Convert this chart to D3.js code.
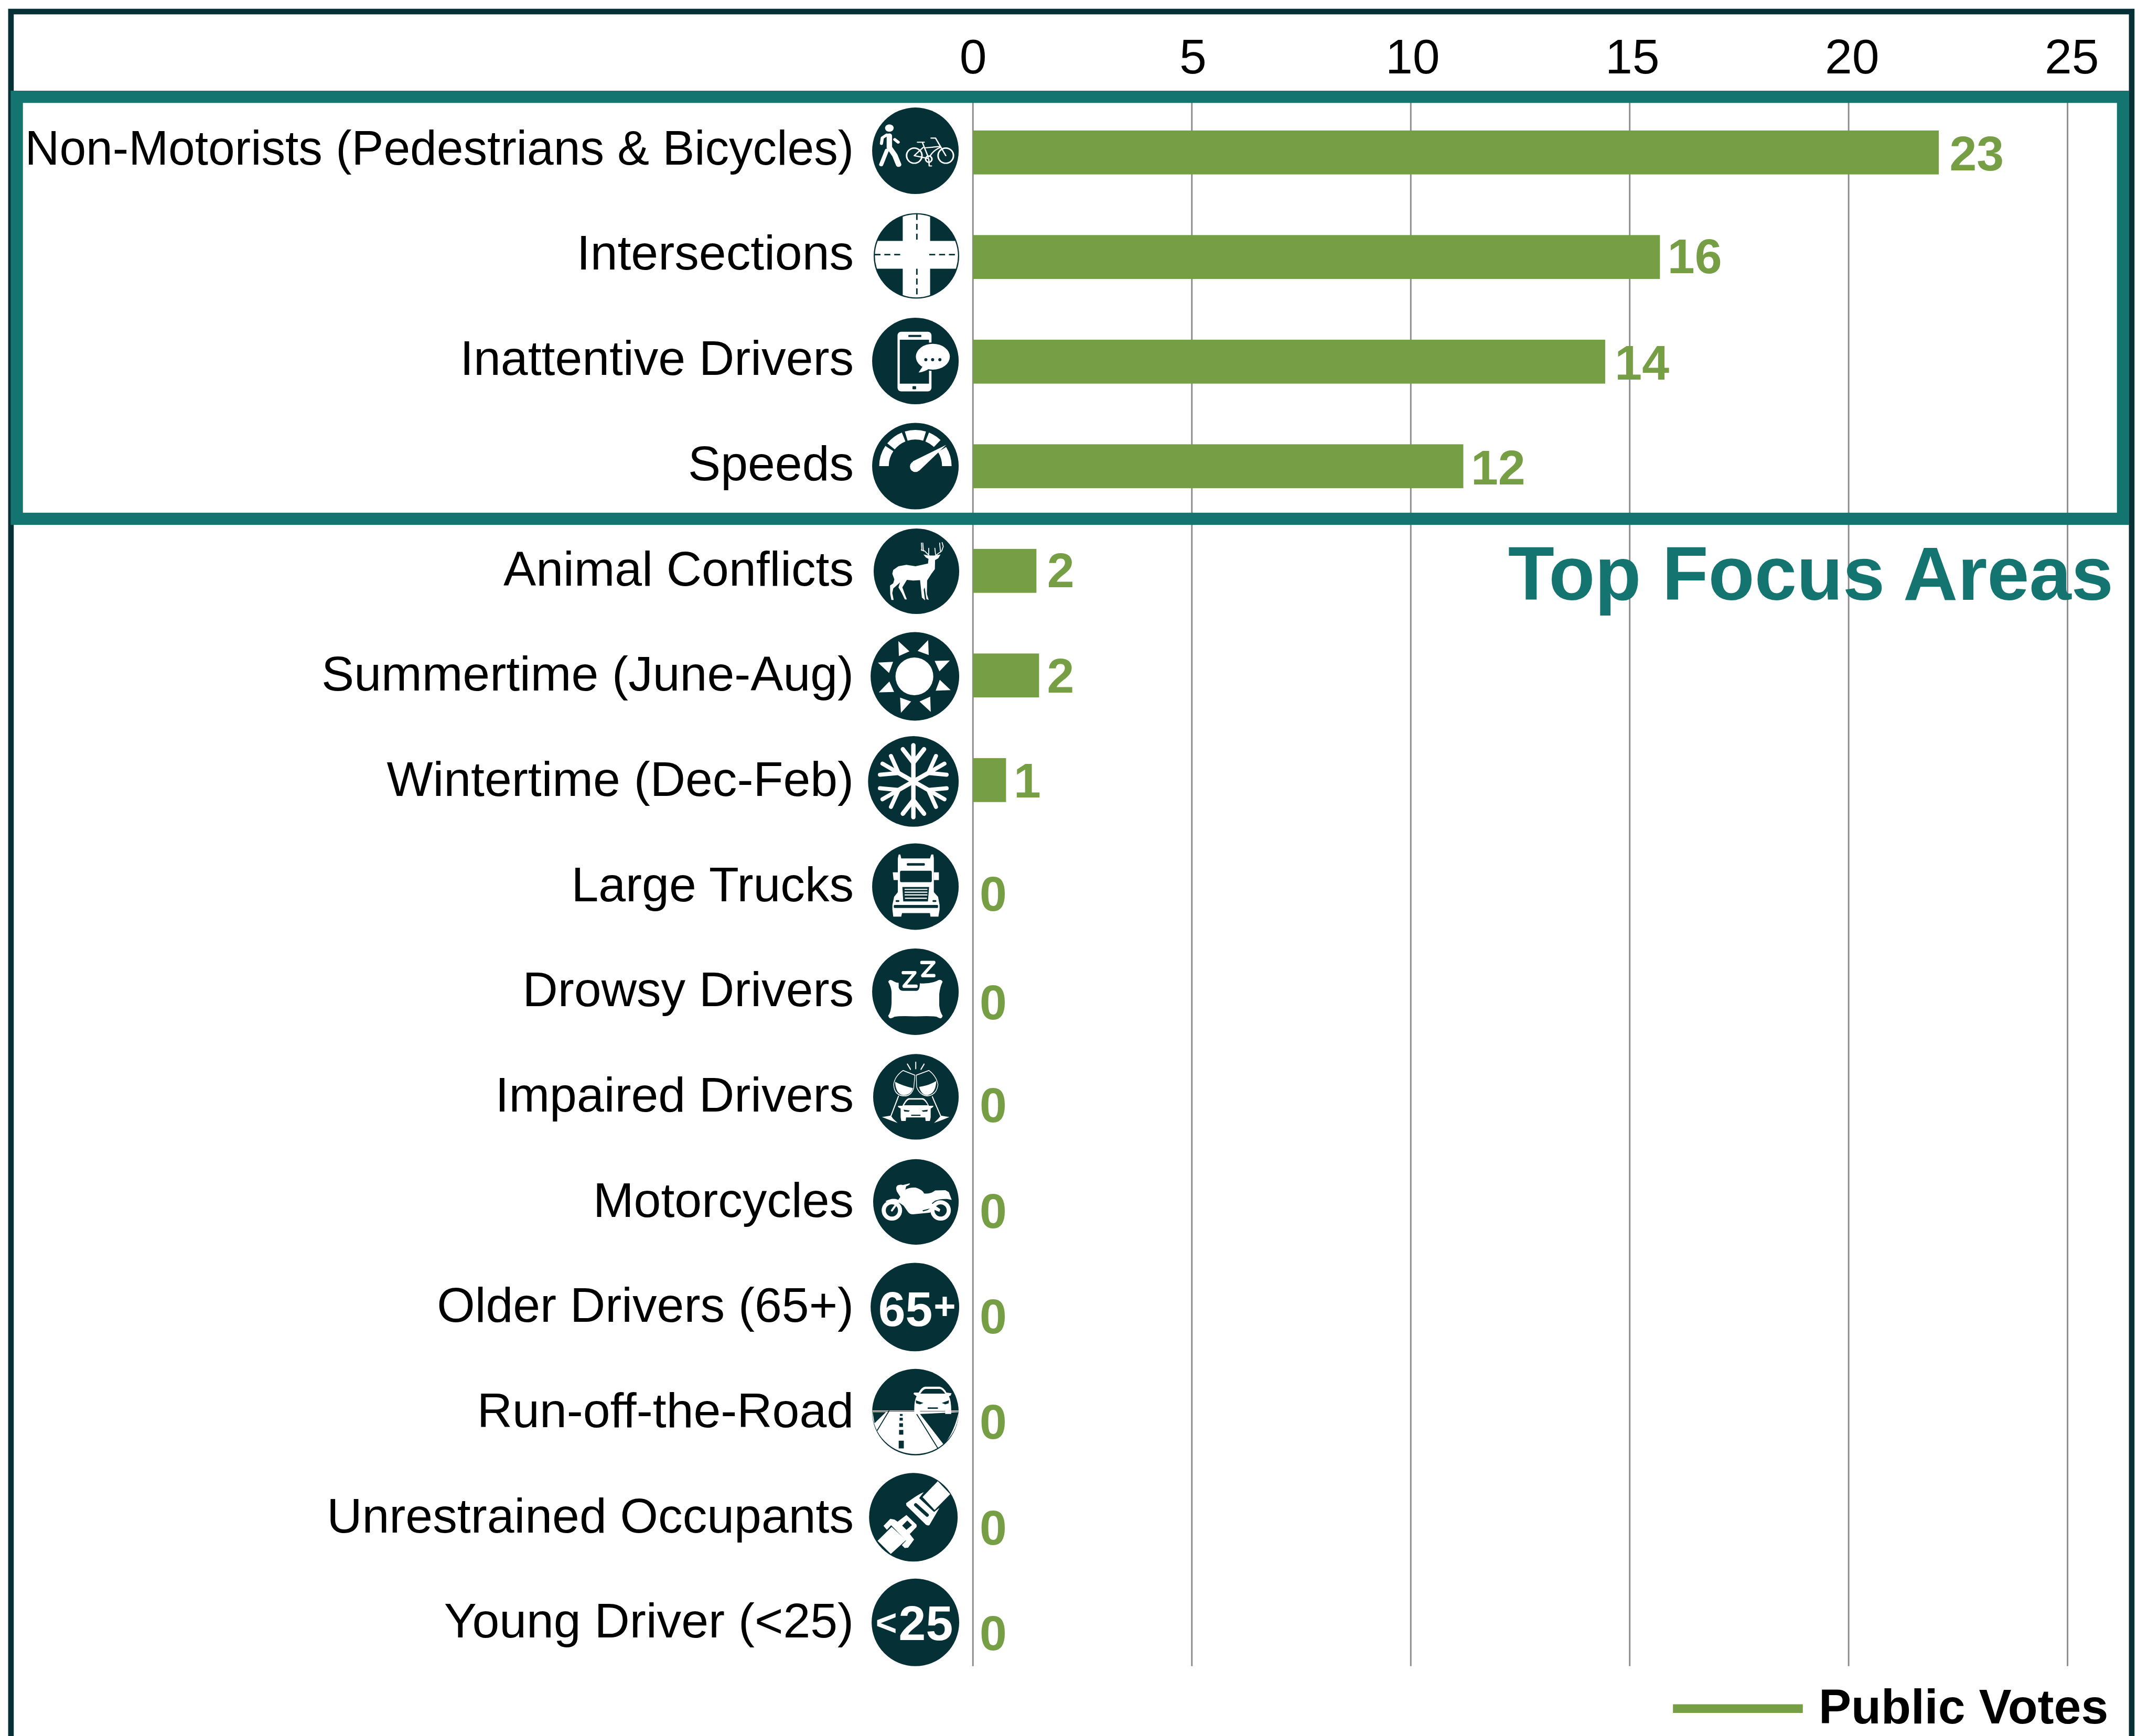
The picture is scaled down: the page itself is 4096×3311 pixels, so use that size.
<!DOCTYPE html>
<html>
<head>
<meta charset="utf-8">
<script src="https://cdn.jsdelivr.net/npm/d3@7"></script>
<style>
html, body { margin: 0; padding: 0; background: #fff; }
svg { display: block; }
text { font-family: "Liberation Sans", Arial, sans-serif; }
</style>
</head>
<body>
<div id="chart"></div>
<script>
const categories = ["Non-Motorists (Pedestrians & Bicycles)", "Intersections", "Inattentive Drivers", "Speeds",
    "Animal Conflicts", "Summertime (June-Aug)", "Wintertime (Dec-Feb)", "Large Trucks", "Drowsy Drivers",
    "Impaired Drivers", "Motorcycles", "Older Drivers (65+)", "Run-off-the-Road", "Unrestrained Occupants",
    "Young Driver (<25)"];
// the bars in the picture are a bit shorter than the printed votes
const barLengths = [22.06, 15.69, 14.44, 11.2, 1.45, 1.51, 0.756, 0, 0, 0, 0, 0, 0, 0, 0];
const voteLabels = [23, 16, 14, 12, 2, 2, 1, 0, 0, 0, 0, 0, 0, 0, 0];
const xTicks = [0, 5, 10, 15, 20, 25];
const legendLabel = "Public Votes";
const calloutLabel = "Top Focus Areas";

const DARK = "#053136", TEAL = "#137470", GREEN = "#769E44", GRID = "#8C8C8C";

// all drawing is done in reference pixels, the viewBox takes care of the 0.97
const svg = d3.select("#chart").append("svg")
    .attr("width", 4096).attr("height", 3311)
    .attr("viewBox", "0 0 4219 3410");

let x = d3.scaleLinear().domain([0, 25]).range([1911, 4061]);
let y = d3.scaleBand().domain(categories).range([196.5, 3279]).paddingInner(0.58).paddingOuter(0.29);
let iconY = d3.scalePoint().domain(categories).range([296, 3187]);
let labelY = d3.scalePoint().domain(categories).range([323, 3217]);

// outer frame runs off the bottom of the picture
svg.append("rect").attr("x", 21.5).attr("y", 22.5).attr("width", 4165.5).attr("height", 3600)
    .attr("fill", "none").attr("stroke", DARK).attr("stroke-width", 11);

svg.append("g").selectAll("line").data(xTicks).enter().append("line")
    .attr("x1", d => x(d)).attr("x2", d => x(d))
    .attr("y1", 200).attr("y2", 3273)
    .attr("stroke", GRID).attr("stroke-width", 3);

let xAxis = svg.append("g").attr("transform", "translate(0,144)")
    .call(d3.axisTop(x).tickValues(xTicks).tickSize(0).tickPadding(0));
xAxis.select(".domain").remove();
// tick labels drift slightly right of their gridlines in the picture
xAxis.selectAll("text").attr("font-size", 96).attr("fill", "#000")
    .attr("dx", d => d * 0.32)
    .style("font-family", '"Liberation Sans", Arial, sans-serif');

svg.append("g").selectAll("rect").data(categories).enter().append("rect")
    .attr("x", x(0))
    .attr("y", d => y(d))
    .attr("width", (d, i) => x(barLengths[i]) - x(0))
    .attr("height", y.bandwidth())
    .attr("fill", GREEN);

svg.append("rect").attr("x", 33).attr("y", 190).attr("width", 4137).attr("height", 829)
    .attr("fill", "none").attr("stroke", TEAL).attr("stroke-width", 24);

svg.append("g").selectAll("text").data(categories).enter().append("text")
    .attr("x", 1677)
    .attr("y", d => labelY(d))
    .attr("text-anchor", "end")
    .attr("font-size", 96)
    .attr("fill", "#000")
    .text(d => d)
    // the long first label is set tighter than the rest
    .filter((d, i) => i === 0)
    .attr("textLength", 1628)
    .attr("lengthAdjust", "spacingAndGlyphs");

// printed votes sit a little off their bars
const valueDx = [21, 15, 19, 15, 21, 15.5, 15, 13, 13, 13, 13, 13, 13, 13, 13];
const valueDy = [1, -2, 1, 2, -2, 0, 0, 17, 25, 21, 24, 25, 27, 29, 31];
svg.append("g").selectAll("text").data(categories).enter().append("text")
    .attr("x", (d, i) => x(barLengths[i]) + valueDx[i])
    .attr("y", (d, i) => y(d) + y.bandwidth() / 2 + valueDy[i] + 34)
    .attr("font-size", 96)
    .attr("font-weight", "bold")
    .attr("fill", GREEN)
    .text((d, i) => voteLabels[i]);

svg.append("text").attr("x", 4151).attr("y", 1178).attr("text-anchor", "end")
    .attr("font-size", 148.6).attr("font-weight", "bold").attr("fill", TEAL).text(calloutLabel);

svg.append("line").attr("x1", 3286).attr("x2", 3541).attr("y1", 3356.5).attr("y2", 3356.5)
    .attr("stroke", GREEN).attr("stroke-width", 17);
svg.append("text").attr("x", 4141).attr("y", 3385).attr("text-anchor", "end")
    .attr("font-size", 96).attr("font-weight", "bold").attr("fill", "#000").text(legendLabel);

// ---- icons ----
function fillW(g, d) { return g.append("path").attr("d", d).attr("fill", "#fff"); }
function fillD(g, d) { return g.append("path").attr("d", d).attr("fill", DARK); }
function strokeW(g, d, w, cap) {
    return g.append("path").attr("d", d).attr("fill", "none").attr("stroke", "#fff")
        .attr("stroke-width", w).attr("stroke-linecap", cap || "round").attr("stroke-linejoin", "round");
}
function strokeD(g, d, w, cap) {
    return g.append("path").attr("d", d).attr("fill", "none").attr("stroke", DARK)
        .attr("stroke-width", w).attr("stroke-linecap", cap || "butt");
}
function dot(g, cx, cy, r, fill) {
    return g.append("circle").attr("cx", cx).attr("cy", cy).attr("r", r).attr("fill", fill || "#fff");
}

// each glyph was traced on a crop, fr = [cx, cy, rx, ry] of the disc in that crop
const iconArt = [
    {fr: [331, 772, 191, 222.5], draw: g => {
        dot(g, 216, 655, 19);
        strokeW(g, "M216,695V755L240,795L257,843", 24);
        strokeW(g, "M205,770L180,843", 18);
        strokeW(g, "M205,690L185,705L181,735", 14);
        strokeW(g, "M240,714L255,728", 14);
        g.append("ellipse").attr("cx", 326).attr("cy", 797).attr("rx", 34).attr("ry", 39)
            .attr("fill", "none").attr("stroke", "#fff").attr("stroke-width", 7);
        g.append("ellipse").attr("cx", 465).attr("cy", 797).attr("rx", 34).attr("ry", 39)
            .attr("fill", "none").attr("stroke", "#fff").attr("stroke-width", 7);
        strokeW(g, "M340,728H370M362,730L388,805M372,757L440,750M326,797L365,755M326,797L388,812M440,755Q410,770 395,800M400,707H420L465,797", 6);
        g.append("ellipse").attr("cx", 390).attr("cy", 815).attr("rx", 14).attr("ry", 16)
            .attr("fill", "none").attr("stroke", "#fff").attr("stroke-width", 7);
        strokeW(g, "M390,815L392,850H402", 6);
    }},
    {fr: [335, 1312, 187, 218], draw: g => {
        // cross in disc units, so the arcs stay simple
        let u = g.append("g").attr("transform", "translate(335,1312) scale(1.87,2.18)");
        fillW(u, "M-32,-91.6A97,97 0 0 1 32,-91.6V-35H90.5A97,97 0 0 1 92.2,30H32V91.6A97,97 0 0 1 -32,91.6V30H-92.2A97,97 0 0 1 -90.5,-35H-32Z");
        strokeD(u, "M1,-98V-38M1,30V98", 3.5).attr("stroke-dasharray", "14 9");
        strokeD(u, "M-98,-3H-30M30,-3H98", 3.5).attr("stroke-dasharray", "14 9");
    }},
    {fr: [331, 244, 191, 191], draw: g => {
        g.append("rect").attr("x", 252).attr("y", 115).attr("width", 150).attr("height", 263).attr("rx", 16).attr("fill", "#fff");
        g.append("rect").attr("x", 262).attr("y", 150).attr("width", 129).attr("height", 194).attr("fill", DARK);
        g.append("rect").attr("x", 300).attr("y", 129).attr("width", 57).attr("height", 9).attr("rx", 2).attr("fill", DARK);
        g.append("rect").attr("x", 318).attr("y", 355).attr("width", 16).attr("height", 14).attr("rx", 3).attr("fill", DARK);
        // dark halo cuts the phone edge around the bubble
        g.append("ellipse").attr("cx", 408).attr("cy", 225).attr("rx", 85).attr("ry", 63).attr("fill", DARK);
        g.append("ellipse").attr("cx", 408).attr("cy", 225).attr("rx", 75).attr("ry", 57).attr("fill", "#fff");
        fillW(g, "M365,265L345,295Q370,292 392,278Z");
        dot(g, 377, 238, 7, DARK); dot(g, 407, 238, 7, DARK); dot(g, 439, 238, 7, DARK);
    }},
    {fr: [332, 706, 190, 190], draw: g => {
        let arc = d3.arc().innerRadius(117).outerRadius(159);
        let segs = [[-90, -56], [-51, -22], [-17, 17], [22, 44], [58, 90]];
        g.append("g").attr("transform", "translate(332,706)").selectAll("path").data(segs).enter().append("path")
            .attr("d", d => arc({startAngle: d[0] * Math.PI / 180, endAngle: d[1] * Math.PI / 180}))
            .attr("fill", "#fff");
        dot(g, 332, 708, 24);
        fillW(g, "M320,685L467,613L350,725Z");
    }},
    {fr: [334, 1169, 188, 188], draw: g => {
        fillW(g, "M385,1135L330,1147L290,1141L255,1147L232,1163L228,1180L237,1205L232,1222L218,1232L219,1270L224,1295H234L228,1265L232,1245L262,1218L255,1240L270,1265L283,1293H292L280,1262L272,1240L292,1207L320,1210L350,1208L358,1285L372,1297L366,1250L370,1240L378,1292L388,1295L380,1270L381,1210L400,1180L415,1160L416,1120L430,1112L440,1095L412,1100H388L365,1095L375,1108L387,1115Z");
        strokeW(g, "M390,1100L370,1080L355,1075M365,1080L362,1045M358,1078L356,1045M388,1095V1068M418,1100L445,1080L452,1060L447,1043M440,1085L436,1045M418,1095L415,1068", 4);
    }},
    {fr: [350, 325, 260, 260], draw: g => {
        dot(g, 347, 325, 111);
        fillW(g, "M253,118L318,178L256,206ZM428,112L366,176L431,200ZM133,244L222,240L198,305ZM555,232L466,234L494,296ZM138,419L200,355L228,417ZM560,406L472,409L496,345ZM263,450L328,473L268,539ZM440,444L377,473L443,534Z");
    }},
    {fr: [342, 945, 267, 267], draw: g => {
        strokeW(g, "M342,732V1155", 26);
        strokeW(g, "M280,755L342,835L405,755M280,1135L342,1055L405,1135", 26);
        strokeW(g, "M342,945L255,895M342,945L430,895M342,945L255,995M342,945L430,995", 26);
        strokeW(g, "M145,905L255,895M160,840L255,895M210,795L255,895", 24);
        strokeW(g, "M538,905L430,895M525,840L430,895M475,795L430,895", 24);
        strokeW(g, "M145,985L255,995M160,1050L255,995M210,1095L255,995", 24);
        strokeW(g, "M538,985L430,995M525,1050L430,995M475,1095L430,995", 24);
    }},
    {fr: [444, 316, 256, 186], draw: g => {
        fillW(g, "M340,195L345,178H355L360,195H530L538,178H550L553,195V340L578,360L587,395V415L580,445H533L530,430H365L360,445H313L308,415V395L318,360L340,340Z");
        fillW(g, "M310,255H340V288H315Z M553,255H583V288H553Z");
        g.append("rect").attr("x", 393).attr("y", 215).attr("width", 107).attr("height", 11).attr("rx", 5).attr("fill", DARK);
        g.append("rect").attr("x", 353).attr("y", 248).attr("width", 188).attr("height", 49).attr("rx", 6).attr("fill", DARK);
        fillD(g, "M367,318H525L518,380H372Z");
        strokeW(g, "M380,328H515M380,340H515M380,352H515M382,366H512", 5, "butt");
        g.append("rect").attr("x", 327).attr("y", 374).attr("width", 22).attr("height", 8).attr("rx", 4).attr("fill", DARK);
        g.append("rect").attr("x", 545).attr("y", 374).attr("width", 23).attr("height", 8).attr("rx", 4).attr("fill", DARK);
        g.append("rect").attr("x", 316).attr("y", 395).attr("width", 262).attr("height", 13).attr("rx", 4).attr("fill", DARK);
    }},
    {fr: [444, 779, 256, 191], draw: g => {
        fillW(g, "M283,735Q293,720 315,733Q330,740 345,740V760Q350,775 370,775H450Q470,775 470,742Q530,745 570,732Q595,720 605,735Q590,755 585,790V840Q590,870 605,885Q600,905 570,890Q545,885 445,888Q350,885 320,890Q290,905 283,885Q300,870 303,830V780Q300,755 283,735Z");
        strokeW(g, "M370,695H443L375,755H450", 15);
        strokeW(g, "M480,650H555L485,708H555", 15);
    }},
    {fr: [448, 1242, 252, 182], draw: g => {
        strokeW(g, "M372,1130L442,1150L435,1205Q420,1240 375,1238Q320,1235 317,1190Q322,1155 372,1130Z", 4);
        fillW(g, "M325,1178Q370,1195 430,1205Q420,1235 375,1235Q330,1232 325,1178Z");
        strokeW(g, "M525,1130L450,1150L452,1200Q470,1235 515,1238Q570,1235 578,1190Q570,1155 525,1130Z", 4);
        fillW(g, "M467,1200Q520,1195 568,1175Q565,1230 515,1235Q480,1235 467,1200Z");
        strokeW(g, "M345,1240L300,1325M545,1242L595,1325", 6);
        fillW(g, "M248,1328L300,1322L313,1335L340,1353L290,1340Z M645,1328L595,1322L580,1335L555,1353L605,1340Z");
        strokeW(g, "M398,1103L416,1125M447,1095V1122M496,1103L478,1125", 6);
        fillW(g, "M405,1248H490Q505,1250 525,1280H550Q555,1285 535,1292V1330L530,1345H505L503,1330H390L388,1345H362L358,1330V1292Q335,1285 345,1280H368Q390,1250 405,1248Z");
        fillD(g, "M378,1278Q395,1255 410,1254H485Q500,1255 518,1278Z");
        fillD(g, "M375,1297L412,1300L405,1306L380,1305Z M518,1297L482,1300L490,1306L515,1305Z M420,1318H475V1323H420Z");
    }},
    {fr: [327, 302, 251, 251], draw: g => {
        g.append("circle").attr("cx", 186).attr("cy", 352).attr("r", 48).attr("fill", "none").attr("stroke", "#fff").attr("stroke-width", 24);
        g.append("circle").attr("cx", 472).attr("cy", 352).attr("r", 48).attr("fill", "none").attr("stroke", "#fff").attr("stroke-width", 24);
        strokeW(g, "M186,352L245,270", 12);
        fillW(g, "M148,298Q190,275 225,290L243,285L215,240Q205,215 220,205Q240,198 250,203L290,193Q297,200 270,210L265,230Q290,215 325,218Q365,230 375,252Q410,258 440,235L500,233L520,245L537,290L510,285Q470,283 440,295L420,310L470,345L465,360L425,345L410,365L310,375Q290,375 280,360L255,325Q210,285 160,305Z");
        fillD(g, "M365,352L410,340L395,350L370,358Z");
    }},
    null,
    {fr: [443, 685, 254, 117], draw: g => {
        strokeW(g, "M190,681H697", 1.5, "butt");
        fillW(g, "M190,683A251,114 0 0 0 697,683Z");
        fillD(g, "M192,685H270L203,715Z");
        strokeD(g, "M218,735L290,680", 4);
        strokeD(g, "M450,690L575,783", 4);
        fillD(g, "M470,690L610,773Q670,740 697,685Z");
        fillD(g, "M352,690H368V695H352ZM350,700H369V708H350ZM348,715H370V725H348ZM347,733H372V746H347ZM345,762H375V783H345Z");
        fillW(g, "M462,632Q480,617 500,616H585Q610,618 625,632L655,634L650,640L640,642Q655,655 653,690H618V682H470V690H437Q433,655 450,642L432,636L435,632Z");
        fillD(g, "M472,635Q490,622 505,622H585Q600,622 618,635Z");
        fillD(g, "M445,653L490,660L470,664L447,661Z M640,653L598,660L618,664L638,661Z M515,672H575V676H515Z");
    }},
    {fr: [311, 301, 261, 261], draw: g => {
        fillW(g, "M455,88L528,165L436,258L365,182Z");
        fillW(g, "M268,218Q340,165 372,153L345,188L433,270L465,245L405,348Q395,352 385,345L270,232Z");
        strokeD(g, "M325,228L392,288", 20, "round");
        fillW(g, "M100,440L183,358L268,435L178,517Z");
        fillW(g, "M135,352L175,310L200,315L218,327L270,288L330,345V358L290,400L315,432L280,480L260,482L243,465L268,438L180,348L155,375Z");
        fillD(g, "M245,350L275,320L303,347L270,375Z");
    }},
    null
];
const iconX = [1798, 1800, 1798, 1798, 1800, 1797, 1794, 1798, 1798, 1799, 1799, 1797, 1798, 1794, 1798];
const iconR = [85, 84, 85, 85, 84, 87, 89, 85, 85, 84, 84, 87, 85, 87, 86];

let iconG = svg.append("g").selectAll("g").data(categories).enter().append("g")
    .attr("transform", (d, i) => "translate(" + iconX[i] + "," + iconY(d) + ")");
iconG.append("circle").attr("r", (d, i) => iconR[i]).attr("fill", DARK);
iconG.each(function (d, i) {
    let art = iconArt[i];
    if (!art) return;
    let fr = art.fr;
    let g = d3.select(this).append("g")
        .attr("transform", "scale(" + iconR[i] / fr[2] + "," + iconR[i] / fr[3] + ") translate(" + -fr[0] + "," + -fr[1] + ")");
    art.draw(g);
});

// age badges are plain text
function ageText(i, txt, tx, ty, size) {
    d3.select(iconG.nodes()[i]).append("text").attr("x", tx).attr("y", ty)
        .attr("font-size", size).attr("font-weight", "bold").attr("fill", "#fff").text(txt);
}
ageText(11, "65", -72, 37, 96);
ageText(11, "+", 37, 24, 74);
ageText(14, "<", -78, 25, 72);
ageText(14, "25", -33, 35, 96);
</script>
</body>
</html>
